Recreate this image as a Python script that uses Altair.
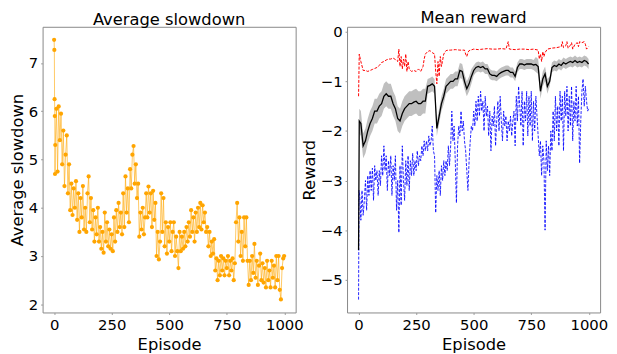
import altair as alt
import pandas as pd

FONT = "DejaVu Sans"

# ---------------- Average slowdown (left panel) ----------------
slow_ep_head = [0, 1, 2, 3, 4]
slow_head = [7.48, 7.27, 6.25, 5.9, 4.7]
slow_ep_body = list(range(5, 1000, 5)) + [999]
slow_body = [
    5.3, 6.05, 4.75, 6.1, 5.4, 5.95, 4.9, 5.6, 4.45, 5.1,
    5.5, 4.3, 4.9, 3.95, 4.5, 3.85, 4.4, 4.0, 4.55, 3.75,
    4.3, 3.5, 4.2, 3.8, 4.45, 3.55, 4.0, 3.5, 4.3, 4.65,
    3.7, 4.2, 3.55, 3.95, 3.3, 3.8, 3.45, 4.0, 3.3, 3.6,
    3.15, 3.5, 3.07, 3.9, 3.3, 3.7, 3.2, 3.55, 3.15, 3.45,
    3.1, 3.8, 3.3, 3.95, 3.5, 4.1, 3.6, 3.9, 3.45, 4.3,
    3.6, 4.65, 3.9, 4.4, 3.7, 4.8, 4.4, 5.1, 5.28, 4.5,
    4.9, 4.2, 4.5, 3.4, 3.9, 3.55, 4.0, 3.45, 3.8, 4.3,
    3.8, 4.44, 3.9, 4.3, 3.6, 4.35, 3.75, 4.1, 3.0, 3.5,
    2.93, 3.3, 4.3, 3.5, 4.2, 3.2, 3.7, 3.05, 3.6, 3.3,
    3.7, 3.1, 3.5, 3.7, 3.0, 3.4, 3.1, 2.75, 3.5, 3.1,
    3.4, 3.15, 3.5, 3.2, 3.6, 3.3, 3.7, 3.4, 3.95, 3.5,
    3.8, 3.3, 3.9, 3.5, 4.0, 3.6, 4.1, 3.55, 4.05, 3.7,
    3.9, 3.5, 3.6, 3.2, 3.5, 3.0, 3.3, 3.05, 3.35, 2.7,
    2.95, 2.5, 2.9, 2.6, 3.0, 2.7, 2.95, 2.6, 2.9, 2.75,
    3.0, 2.6, 2.9, 2.7, 2.95, 2.5, 2.85, 3.7, 4.1, 3.3,
    3.8, 3.0, 3.5, 2.9, 3.8, 3.2, 3.8, 2.9, 2.4, 2.9,
    2.5, 3.0, 2.65, 3.25, 2.55, 2.9, 2.4, 2.8, 3.05, 2.5,
    2.85, 2.45, 2.75, 2.35, 2.9, 2.5, 2.7, 2.35, 2.9, 2.55,
    2.8, 2.35, 3.0, 2.5, 3.0, 2.3, 2.1, 2.75, 2.95, 3.0,
]

# ---------------- Mean reward (right panel) ----------------
blue_ep = [0, 2] + list(range(5, 1000, 5)) + [999]
blue_val = [
    -5.4, -3.2,
    -3.3, -3.8, -3.2, -3.7, -3.4, -3.0, -3.6, -2.9, -3.3, -2.8,
    -3.2, -2.75, -3.4, -2.7, -3.0, -2.8, -3.3, -2.8, -3.1, -2.5,
    -2.9, -2.3, -2.8, -2.5, -3.2, -2.6, -2.9, -2.5, -3.3, -2.7,
    -3.0, -2.5, -3.6, -3.0, -4.05, -2.7, -3.5, -2.3, -3.0, -3.4,
    -2.6, -3.1, -2.5, -3.2, -2.6, -2.9, -2.45, -2.9, -2.6, -2.8,
    -2.4, -2.7, -2.5, -2.6, -2.3, -2.5, -2.2, -2.4, -2.2, -2.4,
    -2.1, -2.3, -2.2, -1.9, -2.4, -2.5, -3.65, -2.9, -3.2, -2.8,
    -3.3, -2.7, -3.0, -2.6, -2.9, -2.6, -2.8, -2.3, -2.7, -2.3,
    -1.6, -2.2, -1.9, -2.6, -3.45, -2.3, -1.9, -2.1, -1.6, -2.0,
    -1.8, -2.2, -2.4, -2.8, -3.2, -2.6, -2.2, -1.9, -2.0, -1.6,
    -1.9, -1.4, -1.8, -1.3, -1.7, -1.2, -1.6, -1.4, -2.0, -1.3,
    -1.7, -1.5, -2.1, -1.6, -2.4, -1.7, -1.9, -1.5, -2.3, -1.8,
    -1.4, -2.0, -1.3, -1.8, -2.2, -1.6, -1.9, -1.7, -2.2, -1.8,
    -2.0, -1.7, -2.1, -1.8, -1.6, -2.3, -1.3, -1.8, -1.1, -1.5,
    -1.9, -1.2, -2.3, -1.4, -1.8, -1.2, -2.1, -1.3, -1.9, -1.2,
    -2.2, -1.4, -2.0, -1.3, -1.7, -2.1, -2.5, -2.2, -2.9, -2.3,
    -2.6, -4.0, -2.2, -2.8, -2.3, -2.9, -2.0, -2.4, -1.6, -2.2,
    -1.3, -2.0, -1.5, -2.3, -1.2, -1.8, -1.3, -2.4, -1.2, -1.7,
    -1.1, -2.0, -1.3, -1.9, -1.1, -2.2, -1.4, -1.8, -1.1, -1.9,
    -1.3, -2.65, -1.8, -1.2, -0.95, -1.5, -1.1, -1.4, -1.6,
    -1.55,
]

red_ep = [0, 3, 10, 20, 30, 40, 50, 60, 70, 80, 90, 100, 110, 120, 130, 140,
          150, 160, 170, 175, 180, 185, 190, 195, 200, 205, 210, 215, 220,
          230, 240, 250, 260, 270, 280, 285, 290, 300, 310, 320, 330, 335,
          340, 345, 350, 355, 360, 370, 380, 390, 400, 420, 440, 460, 465,
          470, 475, 480, 500, 520, 540, 560, 580, 600, 620, 640, 650, 655,
          680, 700, 720, 740, 760, 780, 785, 790, 795, 800, 805, 810, 820,
          840, 860, 880, 885, 890, 900, 905, 910, 920, 925, 930, 940, 950,
          955, 960, 970, 980, 985, 990, 999]
red_val = [-1.3, -0.45, -0.6, -0.78, -0.78, -0.8, -0.78, -0.76, -0.74, -0.72,
           -0.68, -0.62, -0.6, -0.57, -0.55, -0.55, -0.53, -0.56, -0.6, -0.35,
           -0.7, -0.5, -0.75, -0.55, -0.7, -0.45, -0.8, -0.6, -0.75, -0.8,
           -0.78, -0.8, -0.75, -0.8, -0.7, -0.55, -0.45, -0.4, -0.38, -0.42,
           -0.45, -0.8, -1.05, -0.6, -0.9, -0.5, -0.7, -0.45, -0.38, -0.37,
           -0.37, -0.36, -0.37, -0.37, -0.45, -0.5, -0.42, -0.38, -0.35,
           -0.36, -0.35, -0.34, -0.35, -0.35, -0.34, -0.35, -0.2, -0.35,
           -0.36, -0.35, -0.35, -0.36, -0.35, -0.37, -0.55, -0.45, -0.6,
           -0.4, -0.5, -0.42, -0.35, -0.33, -0.32, -0.3, -0.2, -0.32, -0.28,
           -0.2, -0.33, -0.27, -0.22, -0.35, -0.25, -0.22, -0.3, -0.2, -0.22,
           -0.2, -0.25, -0.35, -0.3]

mean_ep = [0, 3] + list(range(10, 1000, 10)) + [999]
mean_val = [-4.4, -1.8,
            -1.85, -2.3, -2.2, -2.0, -1.85, -1.75, -1.6, -1.6, -1.5, -1.45,
            -1.3, -1.25, -1.3, -1.3, -1.45, -1.55, -1.75, -1.8, -1.65, -1.55,
            -1.5, -1.45, -1.45, -1.42, -1.4, -1.45, -1.45, -1.4, -1.4, -1.1,
            -1.08, -1.05, -1.1, -1.95, -1.7, -1.45, -1.3, -1.1, -1.05, -1.0,
            -1.0, -0.95, -0.95, -0.78, -0.8, -1.0, -1.15, -1.05, -0.9, -0.78,
            -0.72, -0.7, -0.72, -0.7, -0.75, -0.75, -0.85, -0.88, -0.88, -0.9,
            -0.85, -0.82, -0.8, -0.78, -0.78, -0.82, -0.82, -0.9, -0.72, -0.65,
            -0.65, -0.67, -0.65, -0.65, -0.65, -0.67, -0.66, -0.7, -1.2, -0.95,
            -0.85, -1.1, -1.0, -0.72, -0.68, -0.7, -0.65, -0.68, -0.62, -0.65,
            -0.62, -0.6, -0.62, -0.58, -0.62, -0.6, -0.62, -0.58, -0.6,
            -0.65]
mean_std = [0.1, 0.25] + [0.25] * 29 + [0.15] * 20 + [0.1] * 27 + [0.15] * 6 + [0.1] * 17 + [0.1]

slow_df = pd.DataFrame({"Episode": slow_ep_head + slow_ep_body,
                        "Slowdown": slow_head + slow_body})
blue_df = pd.DataFrame({"Episode": blue_ep, "Reward": blue_val})
red_df = pd.DataFrame({"Episode": red_ep, "Reward": red_val})
mean_df = pd.DataFrame({"Episode": mean_ep, "Reward": mean_val, "Std": mean_std})
mean_df["Lo"] = mean_df["Reward"] - mean_df["Std"]
mean_df["Hi"] = mean_df["Reward"] + mean_df["Std"]

W, H = 256, 289
xscale = alt.Scale(domain=[-50, 1049], nice=False, zero=False)
xaxis = alt.Axis(title="Episode", values=[0, 250, 500, 750, 1000], format="d", titlePadding=4)

ys1 = alt.Scale(domain=[1.83, 7.75], nice=False, zero=False)
ya1 = alt.Axis(title="Average slowdown", values=[2, 3, 4, 5, 6, 7])

base1 = alt.Chart(slow_df)
left = alt.layer(
    base1.mark_line(color="#FFA500", strokeWidth=1, opacity=0.6).encode(
        x=alt.X("Episode:Q", scale=xscale, axis=xaxis),
        y=alt.Y("Slowdown:Q", scale=ys1, axis=ya1)),
    base1.mark_circle(color="#FFA500", size=18, opacity=1).encode(
        x="Episode:Q", y="Slowdown:Q"),
).properties(width=W, height=H, title="Average slowdown")

ys2 = alt.Scale(domain=[-5.66, 0.1], nice=False, zero=False)
ya2 = alt.Axis(title="Reward", values=[-5, -4, -3, -2, -1, 0])

right = alt.layer(
    alt.Chart(mean_df).mark_area(color="#808080", opacity=0.5).encode(
        x=alt.X("Episode:Q", scale=xscale, axis=xaxis),
        y=alt.Y("Lo:Q", scale=ys2, axis=ya2), y2="Hi:Q"),
    alt.Chart(blue_df).mark_line(color="#0000FF", strokeWidth=1, strokeDash=[3, 1.5], opacity=0.85).encode(
        x="Episode:Q", y="Reward:Q"),
    alt.Chart(red_df).mark_line(color="#FF0000", strokeWidth=1, strokeDash=[3, 1.5]).encode(
        x="Episode:Q", y="Reward:Q"),
    alt.Chart(mean_df).mark_line(color="#000000", strokeWidth=1.3).encode(
        x="Episode:Q", y="Reward:Q"),
).properties(width=W, height=H, title="Mean reward")

chart = alt.hconcat(left, right, spacing=52, bounds="flush").configure(
    font=FONT,
    padding={"left": 0, "top": 0, "right": 0, "bottom": 0},
).configure_view(
    stroke="#888888", strokeWidth=1
).configure_axis(
    grid=False, domain=False, tickSize=2, tickColor="#999999",
    labelFont=FONT, labelFontSize=15, labelColor="#000000", labelPadding=3,
    titleFont=FONT, titleFontSize=16.5, titleFontWeight="normal", titleColor="#000000",
    titlePadding=3,
).configure_title(
    font=FONT, fontSize=16.5, fontWeight="normal", color="#000000", offset=-2
)

chart.save("out.html", embed_options={"renderer": "svg", "actions": False})
